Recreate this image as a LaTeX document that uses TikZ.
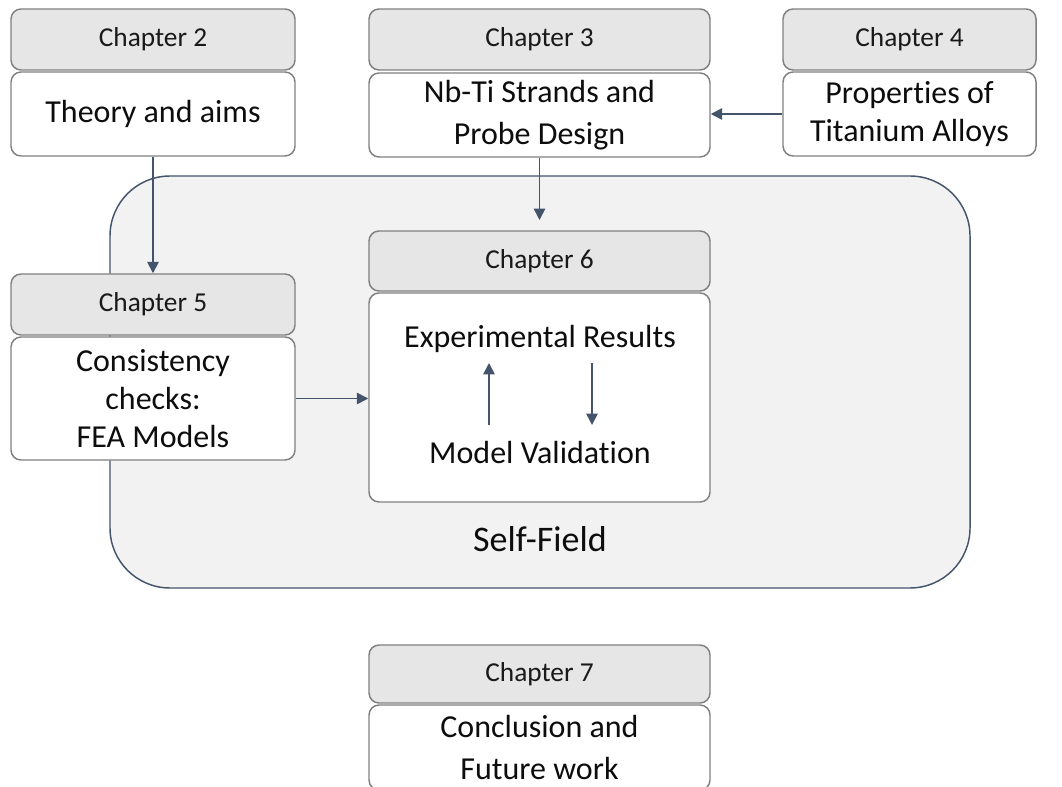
\documentclass[tikz,border=0pt]{standalone}
\usepackage{fontspec}
\setmainfont{Carlito}[Ligatures=NoCommon]
\usetikzlibrary{arrows.meta}
\definecolor{arr}{HTML}{44546A}
\definecolor{hdrfill}{HTML}{E6E6E6}
\definecolor{boxline}{HTML}{808080}
\definecolor{bigfill}{HTML}{F2F2F2}
\begin{document}
\begin{tikzpicture}[x=0.75pt,y=-0.75pt,
  hdr/.style={draw=boxline,fill=hdrfill,line width=1.1pt,rounded corners=7.5pt,inner sep=0pt,
    font=\fontsize{20.5}{24}\selectfont,text=black!90},
  bodybox/.style={draw=boxline,fill=white,line width=1.1pt,rounded corners=7.5pt,inner sep=0pt,
    align=center,font=\fontsize{24}{29}\selectfont,text=black!95},
  conn/.style={draw=arr,line width=1.25pt,-{Triangle[length=8.5pt,width=8.5pt]}},
  lbl/.style={font=\fontsize{24}{29}\selectfont,text=black!95,inner sep=0pt}]
\useasboundingbox (0,0) rectangle (1062,787);
% big self-field area
\path[draw=arr,fill=bigfill,line width=1.1pt,rounded corners=45pt] (110,176) rectangle (970,588);
\node[lbl,anchor=base,font=\fontsize{27}{32}\selectfont] (sf) at (540,551) {Self-Field};
% boxes
\node[hdr,minimum width=213pt,minimum height=45.75pt] (h2) at (153,39.5) {Chapter 2};
\node[bodybox,minimum width=213pt,minimum height=63pt] (b2) at (153,114) {Theory and aims};
\node[hdr,minimum width=255.75pt,minimum height=45.75pt] (h3) at (539.5,39.5) {Chapter 3};
\node[bodybox,minimum width=255.75pt,minimum height=63pt,font=\fontsize{24}{31.5}\selectfont] (b3) at (539.5,115) {Nb-Ti Strands and\\Probe Design};
\node[hdr,minimum width=189.75pt,minimum height=45.75pt] (h4) at (909.5,39.5) {Chapter 4};
\node[bodybox,minimum width=189.75pt,minimum height=63pt,font=\fontsize{24}{28.5}\selectfont] (b4) at (909.5,114) {Properties of\\Titanium Alloys};
\node[hdr,minimum width=213pt,minimum height=45.75pt] (h5) at (153,304.5) {Chapter 5};
\node[bodybox,minimum width=213pt,minimum height=92.25pt,font=\fontsize{24}{28.5}\selectfont] (b5) at (153,398.5) {Consistency\\checks:\\FEA Models};
\node[hdr,minimum width=255.75pt,minimum height=45pt] (h6) at (539.5,261) {Chapter 6};
\node[bodybox,minimum width=255.75pt,minimum height=156.75pt] (b6) at (539.5,397.5) {};
\node[lbl,anchor=base] (er) at (540,348) {Experimental Results};
\node[lbl,anchor=base] (mv) at (540,463) {Model Validation};
\node[hdr,minimum width=255.75pt,minimum height=43.5pt] (h7) at (539.5,674) {Chapter 7};
\node[bodybox,minimum width=255.75pt,minimum height=63.75pt,font=\fontsize{24}{31.5}\selectfont] (b7) at (539.5,747.5) {Conclusion and\\Future work};
% connectors
\coordinate (c3end) at (539.5,220);
\coordinate (upA) at (489,425);
\coordinate (upB) at (489,363);
\coordinate (dnA) at (592,363);
\coordinate (dnB) at (592,425);
\draw[conn] (b2.south) -- (h5.north);
\draw[conn] (b3.south) -- (c3end);
\draw[conn] (b4.west) -- (b4.west -| b3.east);
\draw[conn] (b5.east) -- (b5.east -| b6.west);
\draw[conn] (upA) -- (upB);
\draw[conn] (dnA) -- (dnB);
\end{tikzpicture}
\end{document}
